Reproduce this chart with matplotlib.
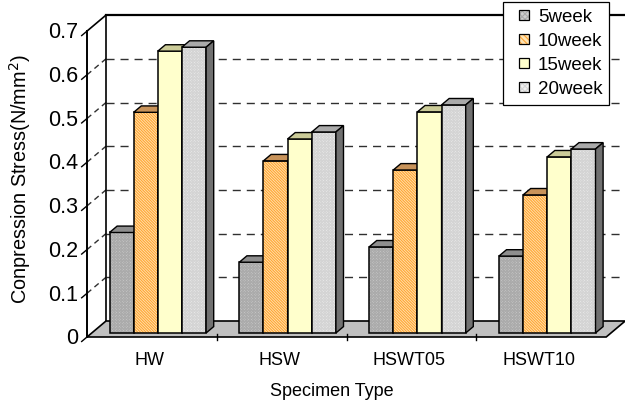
import matplotlib
matplotlib.use("Agg")
import matplotlib.pyplot as plt
from matplotlib.patches import Polygon, Patch, Rectangle
from matplotlib.legend_handler import HandlerPatch, HandlerTuple

# ---- data -------------------------------------------------------------
categories = ["HW", "HSW", "HSWT05", "HSWT10"]
series_names = ["5week", "10week", "15week", "20week"]
week5 = [0.230, 0.162, 0.197, 0.176]
week10 = [0.505, 0.394, 0.373, 0.316]
week15 = [0.645, 0.444, 0.506, 0.403]
week20 = [0.654, 0.460, 0.522, 0.421]
y_ticks = [0.0, 0.1, 0.2, 0.3, 0.4, 0.5, 0.6, 0.7]
y_tick_labels = ["0", "0.1", "0.2", "0.3", "0.4", "0.5", "0.6", "0.7"]

series = [week5, week10, week15, week20]

# ---- styles -------------------------------------------------------------
plt.rcParams["font.family"] = ["Liberation Sans", "DejaVu Sans"]
plt.rcParams["hatch.linewidth"] = 0.8

front_face = [
    dict(fc="#CFCFCF", hatch="xxxxxxxxxxxx", hc="#ABABAB"),
    dict(fc="#FFE4B4", hatch="\\\\\\\\\\\\\\\\\\\\\\\\", hc="#FFA533"),
    dict(fc="#FFFFCC", hatch=None, hc=None),
    dict(fc="#F0F0F0", hatch="xxxxxxxxxxxx", hc="#D4D4D4"),
]
top_colors = ["#8E8E8E", "#C8935A", "#CBCB98", "#AAAAAA"]
side_colors = ["#6A6A6A", "#A66A2A", "#9C9C6A", "#707070"]

# ---- geometry (data units: x = category index, y = value) -------------
PX_CAT = 129.8          # pixels per category
PX_VAL = 437.0          # pixels per 1.0 of value
X0_PX, Y0_PX = 87.0, 337.0
W_PX, H_PX = 625, 405

DX = 19.0 / PX_CAT      # depth vector of the floor / walls
DY = 16.0 / PX_VAL
Y_MAX = 0.7

BAR_FRONT = 0.25        # depth fraction where the bar fronts sit
BAR_DEPTH = 0.40        # depth fraction the bars occupy
BAR_W = 0.186
GROUP_PAD = 0.137

fig = plt.figure(figsize=(W_PX / 100, H_PX / 100), dpi=100)
ax = fig.add_axes([0, 0, 1, 1])
ax.set_xlim(-X0_PX / PX_CAT, (W_PX - X0_PX) / PX_CAT)
ax.set_ylim((Y0_PX - H_PX) / PX_VAL, Y0_PX / PX_VAL)
ax.axis("off")

n_cat = len(categories)
x_end = float(n_cat)


def poly(pts, **kw):
    p = Polygon(pts, closed=True, **kw)
    ax.add_patch(p)
    return p


# back wall
poly([(DX, DY), (x_end + DX, DY), (x_end + DX, Y_MAX + DY), (DX, Y_MAX + DY)],
     fc="white", ec="none", zorder=1)
# left wall
poly([(0, 0), (DX, DY), (DX, Y_MAX + DY), (0, Y_MAX)], fc="white", ec="none", zorder=1)

dash = (0, (5.8, 4.3))
for v in y_ticks[1:-1]:
    ax.plot([DX, x_end + DX], [v + DY, v + DY], color="#303030", lw=1.0,
            ls=dash, zorder=2)
    ax.plot([0, DX], [v, v + DY], color="#303030", lw=1.0, ls=(0, (4.0, 3.0)), zorder=2)

# wall outlines
ax.plot([DX, x_end + DX], [Y_MAX + DY, Y_MAX + DY], color="black", lw=1.6, zorder=2)
ax.plot([0, DX], [Y_MAX, Y_MAX + DY], color="black", lw=1.2, zorder=2)
ax.plot([DX, DX], [DY, Y_MAX + DY], color="black", lw=1.2, zorder=2)
ax.plot([0, 0], [0, Y_MAX], color="black", lw=1.4, zorder=6)

# floor
poly([(0, 0), (x_end, 0), (x_end + DX, DY), (DX, DY)],
     fc="#C0C0C0", ec="black", lw=1.2, zorder=3)

# category tick marks on the floor edge
for i in range(1, n_cat):
    ax.plot([i, i], [0.006, -0.008], color="black", lw=1.0, zorder=3)

# y tick marks and labels
for v, lab in zip(y_ticks, y_tick_labels):
    ax.plot([0, -0.28 * DX], [v, v - 0.28 * DY], color="black", lw=1.0, zorder=6)
    ax.text(-0.068, v - 0.004, lab, ha="right", va="center", fontsize=15.5,
            color="black", zorder=6)

# bars
fx = BAR_FRONT * DX
fy = BAR_FRONT * DY
bdx = BAR_DEPTH * DX
bdy = BAR_DEPTH * DY
zo = 4
for ci in range(n_cat):
    for si, vals in enumerate(series):
        h = vals[ci]
        x0 = ci + GROUP_PAD + si * BAR_W + fx
        x1 = x0 + BAR_W
        y0 = fy
        y1 = fy + h
        st = front_face[si]
        front = [(x0, y0), (x1, y0), (x1, y1), (x0, y1)]
        if st["hatch"]:
            poly(front, fc=st["fc"], ec=st["hc"], lw=0, hatch=st["hatch"], zorder=zo)
        else:
            poly(front, fc=st["fc"], ec="none", zorder=zo)
        poly(front, fc="none", ec="black", lw=1.1, zorder=zo + 0.1)
        poly([(x0, y1), (x1, y1), (x1 + bdx, y1 + bdy), (x0 + bdx, y1 + bdy)],
             fc=top_colors[si], ec="black", lw=1.0, zorder=zo + 0.2)
        poly([(x1, y0), (x1 + bdx, y0 + bdy), (x1 + bdx, y1 + bdy), (x1, y1)],
             fc=side_colors[si], ec="black", lw=1.0, zorder=zo + 0.2)
        zo += 0.5

# category labels
for ci, name in enumerate(categories):
    ax.text(ci + 0.5 - 0.02, -0.054, name, ha="center", va="center",
            fontsize=13, color="black")

fig.text(332 / W_PX, 1 - 392 / H_PX, "Specimen Type", ha="center", va="center",
         fontsize=13)
fig.text(20 / W_PX, 1 - 179 / H_PX, "Conpression Stress(N/mm$^2$)", ha="center",
         va="center", rotation=90, fontsize=14.3)


# legend: small square swatches placed at the right end of the handle box
def square_swatch(legend, orig_handle, xdescent, ydescent, width, height, fontsize):
    s = height
    return Rectangle((width - s - xdescent, -ydescent), s, s)


handles = []
for si, name in enumerate(series_names):
    st = front_face[si]
    if st["hatch"]:
        fill = Patch(fc=st["fc"], ec=st["hc"], lw=0, hatch=st["hatch"][:6])
    else:
        fill = Patch(fc=st["fc"], ec="none", lw=0)
    edge = Patch(fc="none", ec="black", lw=0.9)
    handles.append((fill, edge))

leg = fig.legend(handles=handles, labels=series_names, loc="upper right",
                 bbox_to_anchor=(609 / W_PX, 1 - 2 / H_PX),
                 handler_map={tuple: HandlerTuple(ndivide=1, pad=0),
                              Patch: HandlerPatch(patch_func=square_swatch)},
                 frameon=True, fancybox=False, edgecolor="black", framealpha=1,
                 fontsize=13.5, handlelength=1.05, handleheight=0.45,
                 handletextpad=0.45, labelspacing=0.38, borderpad=0.35,
                 borderaxespad=0)
leg.get_frame().set_linewidth(0.9)
leg.set_zorder(10)

fig.savefig("out.png", dpi=100)
